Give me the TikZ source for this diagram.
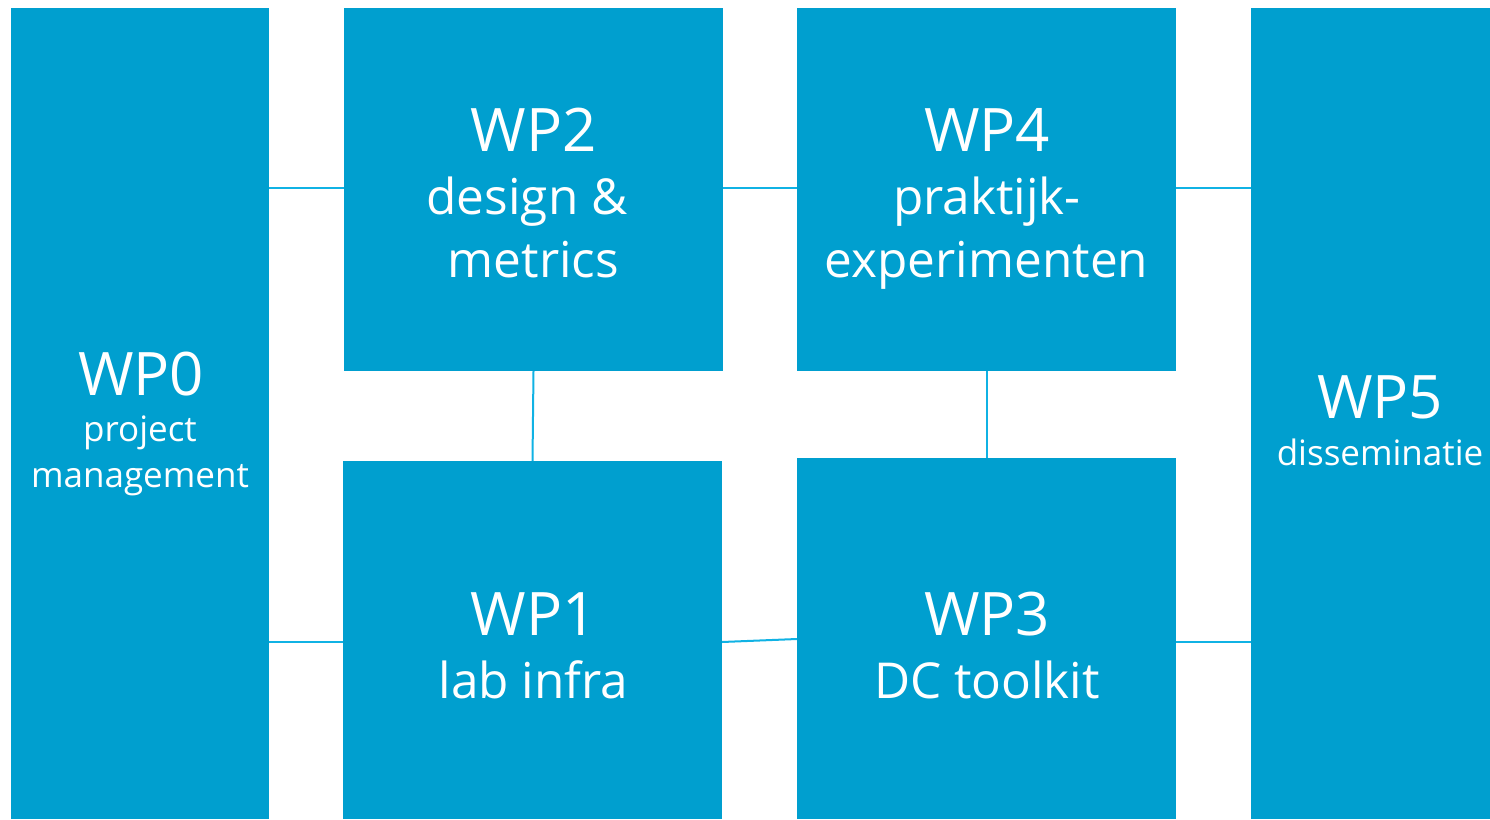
\documentclass[tikz,border=0pt]{standalone}
\usepackage{fontspec}
\setmainfont{Open Sans}
\definecolor{wpblue}{RGB}{0,159,207}
\definecolor{linkblue}{RGB}{16,178,228}
\tikzset{
  wpbox/.style={rectangle, fill=wpblue, draw=none, inner sep=0pt, outer sep=0pt},
  wptitle/.style={anchor=base, inner sep=0pt, text=white, font=\fontsize{60}{60}\selectfont},
  wpbig/.style={anchor=base, inner sep=0pt, text=white, font=\fontsize{49.5}{49.5}\selectfont},
  wpsmall/.style={anchor=base, inner sep=0pt, text=white, font=\fontsize{35}{35}\selectfont},
  link/.style={draw=linkblue, line width=2pt}
}
\begin{document}
\begin{tikzpicture}[x=1pt,y=-1pt]
\useasboundingbox (0,0) rectangle (1490,819);
% boxes
\node[wpbox, minimum width=258pt, minimum height=811pt] (wp0) at (140,413.5) {};
\node[wpbox, minimum width=379pt, minimum height=363pt] (wp2) at (533.5,189.5) {};
\node[wpbox, minimum width=379pt, minimum height=363pt] (wp4) at (986.5,189.5) {};
\node[wpbox, minimum width=379pt, minimum height=358pt] (wp1) at (532.5,640) {};
\node[wpbox, minimum width=379pt, minimum height=361pt] (wp3) at (986.5,638.5) {};
\node[wpbox, minimum width=239pt, minimum height=811pt] (wp5) at (1370.5,413.5) {};
% connectors
\draw[link] ([yshift=1.5pt]wp0.east |- wp2.west) -- ([yshift=1.5pt]wp2.west);
\draw[link] ([yshift=1.5pt]wp2.east) -- ([yshift=1.5pt]wp4.west);
\draw[link] ([yshift=1.5pt]wp4.east) -- ([yshift=1.5pt]wp5.west |- wp4.east);
\draw[link] ([yshift=-2pt]wp0.east |- wp1.west) -- ([yshift=-2pt]wp1.west);
\draw[link] ([yshift=-2pt]wp1.east) -- ([yshift=-0.5pt]wp3.west);
\draw[link] ([yshift=-3.5pt]wp3.east) -- ([yshift=-3.5pt]wp5.west |- wp3.east);
\draw[link] (wp2.south) -- (wp1.north);
\draw[link] (wp4.south) -- (wp3.north);
% texts
\node[wptitle] (t0a) at (141,395) {WP0};
\node[wpsmall] (t0b) at (140,441) {project};
\node[wpsmall] (t0c) at (140,487) {management};
\node[wptitle] (t2a) at (533.5,151) {WP2};
\node[wpbig] (t2b) at (527,214) {design \&};
\node[wpbig] (t2c) at (533.5,277) {metrics};
\node[wptitle] (t4a) at (987,151) {WP4};
\node[wpbig] (t4b) at (987,214) {praktijk-};
\node[wpbig] (t4c) at (986.5,277) {experimenten};
\node[wptitle] (t1a) at (533.5,635) {WP1};
\node[wpbig] (t1b) at (533.5,698) {lab infra};
\node[wptitle] (t3a) at (987,635) {WP3};
\node[wpbig] (t3b) at (987,698) {DC toolkit};
\node[wptitle] (t5a) at (1380,418) {WP5};
\node[wpsmall] (t5b) at (1380,465) {disseminatie};
\end{tikzpicture}
\end{document}
